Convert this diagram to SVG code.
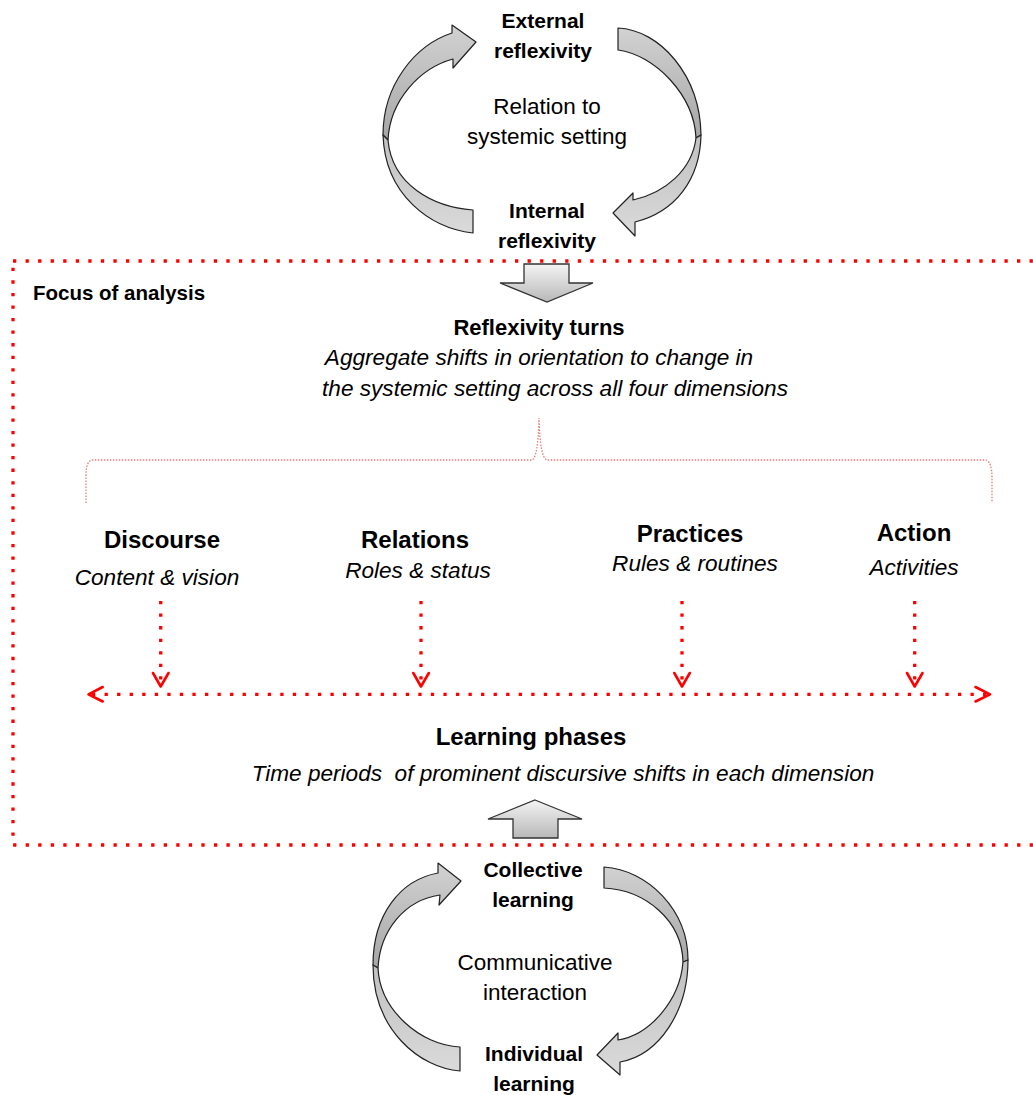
<svg xmlns="http://www.w3.org/2000/svg" width="1033" height="1095" viewBox="0 0 1033 1095">
<style>
  text { font-family: "Liberation Sans", Arial, sans-serif; fill: #000; }
  .b { font-weight: bold; font-size: 21px; text-anchor: middle; }
  .h { font-weight: bold; font-size: 24px; text-anchor: middle; }
  .n { font-size: 22.5px; text-anchor: middle; }
  .i { font-style: italic; font-size: 22.6px; text-anchor: middle; }
  .band { stroke: #222; stroke-width: 1.2; stroke-linejoin: round; }
  .up { fill: url(#gDark); }
  .lo { fill: url(#gLight); }
  .block { fill: url(#gBlock); stroke: #333; stroke-width: 1.3; stroke-linejoin: miter; }
  .reddot { fill: none; stroke: #ff0000; stroke-width: 3.3; stroke-dasharray: 3.3 9.25; }
  .head { fill: none; stroke: #ff0000; stroke-width: 2.6; stroke-linecap: round; stroke-linejoin: round; }
  .brace { fill: none; stroke: #d9534f; stroke-opacity: 0.75; stroke-width: 1.3; stroke-dasharray: 1.5 1.5; }
</style>
<defs>
  <linearGradient id="gDark" x1="0" y1="0" x2="0" y2="1">
    <stop offset="0" stop-color="#d2d2d2"/>
    <stop offset="1" stop-color="#a6a6a6"/>
  </linearGradient>
  <linearGradient id="gLight" x1="0" y1="0" x2="0" y2="1">
    <stop offset="0" stop-color="#c0c0c0"/>
    <stop offset="1" stop-color="#dadada"/>
  </linearGradient>
  <linearGradient id="gBlock" x1="0" y1="0" x2="0" y2="1">
    <stop offset="0" stop-color="#f4f4f4"/>
    <stop offset="1" stop-color="#b8b8b8"/>
  </linearGradient>
</defs>

<!-- Focus of analysis frame -->
<g id="frame">
  <rect class="reddot" x="13" y="261" width="1040" height="584"/>
  <text x="33" y="300" style="font-weight:bold;font-size:20.5px">Focus of analysis</text>
</g>

<!-- Top cycle -->
<g id="external-reflexivity">
  <text class="b" x="543" y="28">External</text>
  <text class="b" x="543" y="58">reflexivity</text>
</g>
<g id="relation-systemic">
  <text class="n" x="547" y="114">Relation to</text>
  <text class="n" x="547" y="144">systemic setting</text>
</g>
<g id="internal-reflexivity">
  <text class="b" x="547" y="218">Internal</text>
  <text class="b" x="547" y="248">reflexivity</text>
</g>

<!-- Bottom cycle -->
<g id="collective-learning">
  <text class="b" x="533" y="877">Collective</text>
  <text class="b" x="533" y="907">learning</text>
</g>
<g id="communicative-interaction">
  <text class="n" x="535" y="970">Communicative</text>
  <text class="n" x="535" y="1000">interaction</text>
</g>
<g id="individual-learning">
  <text class="b" x="534" y="1061">Individual</text>
  <text class="b" x="534" y="1091">learning</text>
</g>

<!-- Reflexivity turns -->
<g id="reflexivity-turns">
  <text class="h" x="539" y="335" style="font-size:22px">Reflexivity turns</text>
  <text class="i" x="539" y="365">Aggregate shifts in orientation to change in</text>
  <text class="i" x="555" y="396">the systemic setting across all four dimensions</text>
</g>

<!-- Dimensions -->
<g id="discourse">
  <text class="h" x="162" y="548">Discourse</text>
  <text class="i" x="157" y="585">Content &amp; vision</text>
</g>
<g id="relations">
  <text class="h" x="415" y="548">Relations</text>
  <text class="i" x="418" y="578">Roles &amp; status</text>
</g>
<g id="practices">
  <text class="h" x="690" y="542">Practices</text>
  <text class="i" x="695" y="571">Rules &amp; routines</text>
</g>
<g id="action">
  <text class="h" x="914" y="541">Action</text>
  <text class="i" x="914" y="575">Activities</text>
</g>

<!-- Learning phases -->
<g id="learning-phases">
  <text class="h" x="531" y="745">Learning phases</text>
  <text class="i" x="563" y="781" xml:space="preserve">Time periods  of prominent discursive shifts in each dimension</text>
</g>

<g id="connectors">
  <!-- top cycle arrows -->
  <path class="band up" d="M 383,135 C 383,85 415,45 452,33 L 452,25 L 476,42 L 453,68 L 453,59 C 420,68 390,100 388,140 Z"/>
  <path class="band lo" d="M 383,135 C 385,195 430,228 473,233 L 473,210 C 433,207 392,185 388,140 Z"/>
  <path class="band up" d="M 618,28 C 660,30 700,75 701,135 L 696,138 C 694,95 655,55 618,50 Z"/>
  <path class="band lo" d="M 701,135 C 700,180 675,212 635,222 L 635,236 L 613,213 L 633,193 L 633,200 C 665,193 692,170 696,138 Z"/>

  <!-- bottom cycle arrows -->
  <path class="band up" d="M 373,965 C 373,915 400,880 438,873 L 438,863 L 461,881 L 439,905 L 440,895 C 405,900 380,930 378,968 Z"/>
  <path class="band lo" d="M 373,965 C 373,1030 420,1068 460,1071 L 460,1047 C 420,1045 380,1010 378,968 Z"/>
  <path class="band up" d="M 604,867 C 648,870 688,910 688,960 L 683,962 C 682,920 645,890 604,888 Z"/>
  <path class="band lo" d="M 688,960 C 688,1010 660,1055 620,1062 L 620,1075 L 597,1055 L 618,1033 L 618,1040 C 650,1035 680,1000 683,962 Z"/>

  <!-- block arrows -->
  <path class="block" d="M 524,264 L 569,264 L 569,283 L 593,283 L 547,302 L 500,283 L 524,283 Z"/>
  <path class="block" d="M 535,800 L 582,819 L 558,819 L 558,838 L 513,838 L 513,819 L 488,819 Z"/>

  <!-- brace -->
  <path class="brace" d="M 86,503 L 86,476 Q 86,460 93,460 L 532,460 Q 538,458 539,418 Q 540,458 547,460 L 986,460 Q 992,462 992,478 L 992,503"/>

  <!-- dimension arrows -->
  <line class="reddot" x1="160.7" y1="601" x2="160.7" y2="684"/>
  <polyline class="head" points="153,673 160.7,686.5 168.5,673"/>
  <line class="reddot" x1="421" y1="601" x2="421" y2="684"/>
  <polyline class="head" points="413.3,673 421,686.5 428.8,673"/>
  <line class="reddot" x1="682" y1="601" x2="682" y2="684"/>
  <polyline class="head" points="674.3,673 682,686.5 689.8,673"/>
  <line class="reddot" x1="914.7" y1="601" x2="914.7" y2="684"/>
  <polyline class="head" points="907,673 914.7,686.5 922.5,673"/>

  <!-- timeline -->
  <line class="reddot" x1="92" y1="694.3" x2="988" y2="694.3"/>
  <polyline class="head" points="102.7,687 88.5,694.3 102.7,701.5"/>
  <polyline class="head" points="975.5,687 990,694.3 975.5,701.5"/>
</g>
</svg>
